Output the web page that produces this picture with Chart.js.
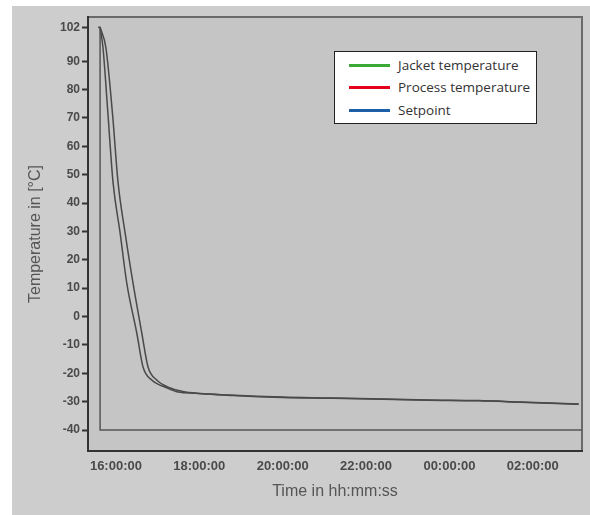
<!DOCTYPE html>
<html>
<head>
<meta charset="utf-8">
<script src="https://cdn.jsdelivr.net/npm/chart.js@4"></script>
<style>
  body { margin: 0; background: #fff; }
  #wrap { position: relative; width: 590px; height: 515px; }
  #leyenda {
    position: absolute; left: 334px; top: 51px; width: 201px; height: 71px;
    background: #fff; border: 1px solid #222;
    font-family: "Open Sans", sans-serif; font-size: 13.5px; color: #333;
  }
  .fila { position: absolute; left: 14px; height: 20px; display: flex; align-items: center; }
  .fila span.linea { display: inline-block; width: 41px; height: 3px; margin-right: 8px; }
</style>
</head>
<body>
<div id="wrap">
  <canvas id="tempChart" width="590" height="515"></canvas>
  <div id="leyenda"></div>
</div>
<script>
// tiempos en horas desde medianoche (24 = 00:00 del día siguiente)
const jacketTime = [15.62, 15.69, 15.81, 15.93, 16.10, 16.26, 16.50, 16.65, 16.86, 17.2, 17.49, 17.9, 18.73, 20.0, 21.2, 22.4, 23.5, 24.7, 25.7, 27.1];
const jacketTemp = [102, 94.7, 71.1, 47.4, 29.5, 11.8, -5.8, -17.8, -22.4, -25, -26.6, -27.0, -27.7, -28.4, -28.7, -29.1, -29.4, -29.6, -30.1, -30.8];

const processTime = [15.62, 15.76, 15.92, 16.05, 16.22, 16.41, 16.62, 16.77, 16.98, 17.3, 17.6, 18.0, 18.8, 20.0, 21.2, 22.4, 23.5, 24.7, 25.7, 27.1];
const processTemp = [102, 94.7, 71.1, 47.4, 29.5, 11.8, -5.8, -17.8, -22.4, -25.2, -26.4, -27.1, -27.8, -28.5, -28.8, -29.2, -29.5, -29.7, -30.2, -30.9];

const setpointTime = [15.57, 15.62, 15.62, 27.2];
const setpointTemp = [102, 102, -40, -40];

const seriesNames = ["Jacket temperature", "Process temperature", "Setpoint"];
const legendColors = ["#3aa935", "#e2001a", "#1d5fa6"];

const xTickHours = [16, 18, 20, 22, 24, 26];
const xTickLabels = ["16:00:00", "18:00:00", "20:00:00", "22:00:00", "00:00:00", "02:00:00"];
const yTickValues = [102, 90, 80, 70, 60, 50, 40, 30, 20, 10, 0, -10, -20, -30, -40];

function puntos(xs, ys) {
    return xs.map((x, i) => ({ x: x, y: ys[i] }));
}

// fondo gris del panel y marco del área de trazado
const fondoPanel = {
    id: 'fondoPanel',
    beforeDraw(chart) {
        const ctx = chart.ctx;
        const a = chart.chartArea;
        ctx.save();
        ctx.fillStyle = '#ffffff';
        ctx.fillRect(0, 0, chart.width, chart.height);
        ctx.fillStyle = '#cdcdcd';
        ctx.fillRect(12, 6, chart.width - 12, chart.height - 6);
        ctx.fillStyle = '#c5c5c5';
        ctx.fillRect(a.left, a.top, a.right - a.left, a.bottom - a.top);
        ctx.strokeStyle = '#6a6a6a';
        ctx.lineWidth = 2;
        ctx.strokeRect(a.left, a.top, a.right - a.left, a.bottom - a.top);
        ctx.restore();
    }
};

const ctx = document.getElementById('tempChart');
const tempChart = new Chart(ctx, {
    type: 'line',
    data: {
        datasets: [
            { label: seriesNames[0], data: puntos(jacketTime, jacketTemp), borderColor: '#4a4a4a', borderWidth: 1.5, pointRadius: 0, cubicInterpolationMode: 'monotone' },
            { label: seriesNames[1], data: puntos(processTime, processTemp), borderColor: '#4a4a4a', borderWidth: 1.5, pointRadius: 0, cubicInterpolationMode: 'monotone' },
            { label: seriesNames[2], data: puntos(setpointTime, setpointTemp), borderColor: '#555555', borderWidth: 1.5, pointRadius: 0, tension: 0 }
        ]
    },
    options: {
        responsive: false,
        animation: false,
        layout: { padding: { top: 17, right: 8, left: 0, bottom: 14 } },
        plugins: { legend: { display: false }, tooltip: { enabled: false } },
        scales: {
            x: {
                type: 'linear',
                min: 15.33,
                max: 27.18,
                afterBuildTicks: (eje) => { eje.ticks = xTickHours.map(v => ({ value: v })); },
                afterFit: (eje) => { eje.height = 50; },
                ticks: {
                    autoSkip: false,
                    maxRotation: 0,
                    padding: 8,
                    color: '#4a4a4a',
                    font: { family: 'Liberation Sans', size: 13, weight: 'bold' },
                    callback: (v, i) => xTickLabels[i]
                },
                grid: { drawOnChartArea: false, drawTicks: false },
                border: { color: '#333', width: 2 },
                title: {
                    display: true,
                    text: 'Time in hh:mm:ss',
                    color: '#555',
                    font: { family: 'Liberation Sans', size: 16 },
                    padding: { top: 4, bottom: 0 }
                }
            },
            y: {
                min: -47.4,
                max: 105.6,
                afterBuildTicks: (eje) => { eje.ticks = yTickValues.map(v => ({ value: v })); },
                afterFit: (eje) => { eje.width = 88; },
                ticks: {
                    autoSkip: false,
                    padding: 2,
                    color: '#4a4a4a',
                    font: { family: 'Liberation Sans', size: 12, weight: 'bold' },
                    callback: (v) => String(v)
                },
                grid: { drawOnChartArea: false, drawTicks: true, tickLength: 6, color: '#333', tickWidth: 2 },
                border: { color: '#333', width: 2 },
                title: {
                    display: true,
                    text: 'Temperature in [°C]',
                    color: '#555',
                    font: { family: 'Liberation Sans', size: 16 },
                    padding: { top: 26, bottom: 0 }
                }
            }
        }
    },
    plugins: [fondoPanel]
});

// leyenda propia dentro del área de trazado
const $leyenda = document.getElementById('leyenda');
const filasTop = [3, 25, 48];
seriesNames.forEach((nombre, i) => {
    const fila = document.createElement('div');
    fila.className = 'fila';
    fila.style.top = filasTop[i] + 'px';
    fila.innerHTML = '<span class="linea" style="background:' + legendColors[i] + '"></span>' + nombre;
    $leyenda.appendChild(fila);
});
</script>
</body>
</html>
